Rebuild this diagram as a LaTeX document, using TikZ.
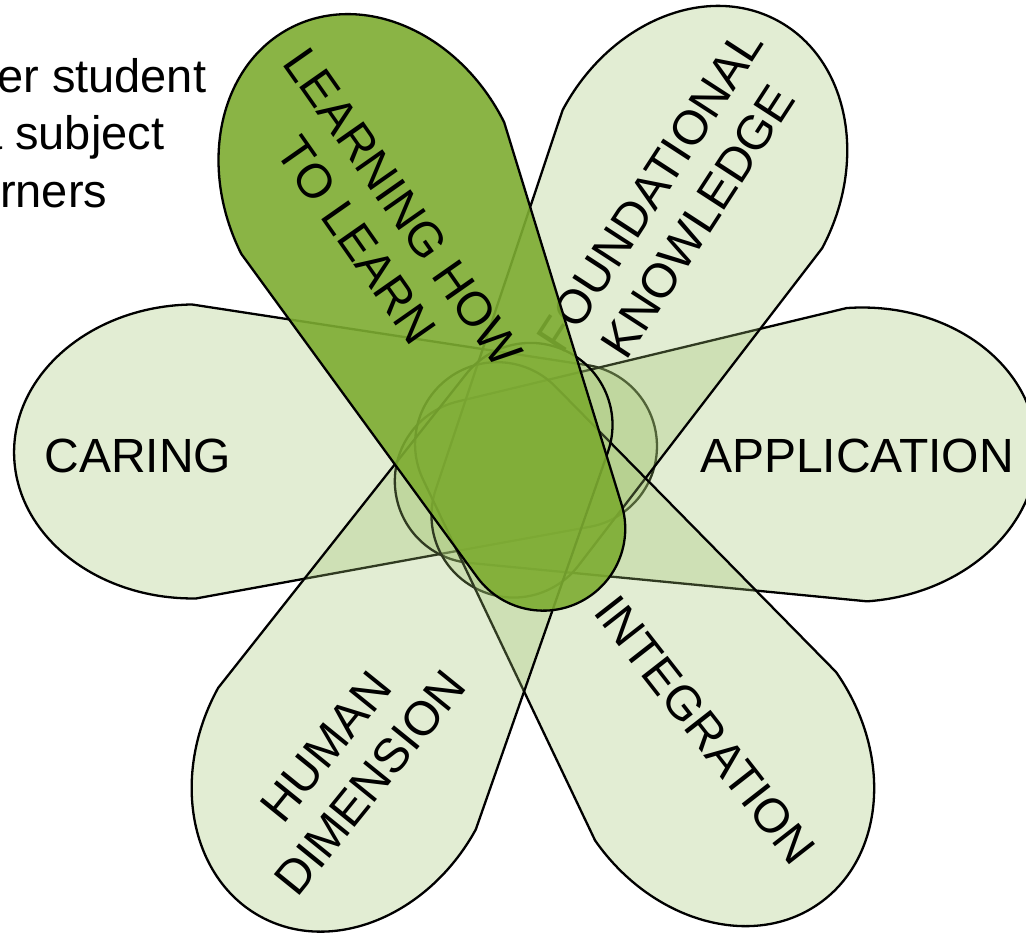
\documentclass[tikz,border=0pt]{standalone}
\usepackage{fontspec}
\setmainfont{Liberation Sans}
\definecolor{leafgreen}{RGB}{160,195,110}
\definecolor{learngreen}{RGB}{125,172,49}
\tikzset{
  petal/.pic={
    \path[pic actions] (463,147) arc[start angle=90, end angle=-90, x radius=180, y radius=147]
      -- (68.5,-80.9) arc[start angle=-99.5, end angle=-260.5, radius=82] -- cycle;
  },
  leaf/.style={draw=black, line width=2.3pt, fill=leafgreen, fill opacity=0.3},
  leafdark/.style={draw=black, line width=2.3pt, fill=learngreen, fill opacity=0.9},
  petaltext/.style={font=\fontsize{48}{57}\selectfont, align=center, inner sep=0pt},
  sidetext/.style={font=\fontsize{47}{56}\selectfont, anchor=base west, inner sep=0pt}
}
\begin{document}
\begin{tikzpicture}[x=1pt,y=-1pt]
    \useasboundingbox (0,0) rectangle (1026,936);
    % Side text (cut off at the left)
    \node[sidetext] (student) at (-3,93) {er student} ; %
    \node[sidetext] (subject) at (-24,150) {a subject} ; %
    \node[sidetext] (learners) at (0,208) {rners} ; %
    % Petals
    \pic[leaf, rotate=-179.2] at (657,445) {petal} ; %
    \pic[leaf, rotate=4] at (395,487) {petal} ; %
    \pic[leaf, rotate=62] at (475,588) {petal} ; %
    \pic[leaf, rotate=-55] at (450,377) {petal} ; %
    \pic[leaf, rotate=-118.8] at (570,353) {petal} ; %
    % Labels
    \node[petaltext] (caring) at (138,456) {CARING} ; %
    \node[petaltext] (application) at (857,456) {APPLICATION} ; %
    \node[petaltext, rotate=57] (foundational) at (674,206) {FOUNDATIONAL\\KNOWLEDGE} ; %
    \node[petaltext, rotate=-52] (integration) at (705,730) {INTEGRATION} ; %
    \node[petaltext, rotate=51] (human) at (348,765) {HUMAN\\DIMENSION} ; %
    % Learning how to learn on top
    \pic[leafdark, rotate=116.6] at (580,602) {petal} ; %
    \node[petaltext, rotate=-55] (learning) at (380,224) {LEARNING HOW\\TO LEARN} ; %
\end{tikzpicture}
\end{document}
